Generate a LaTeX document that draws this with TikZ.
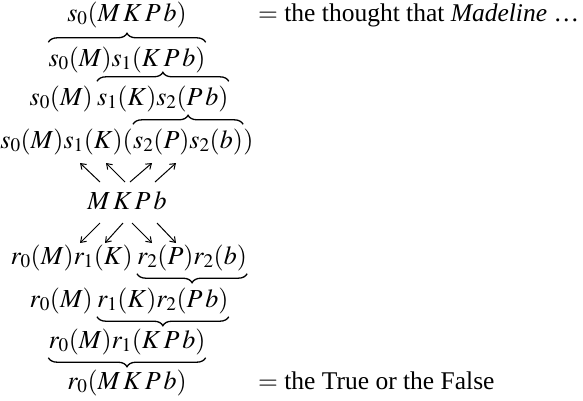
\documentclass[tikz,border=0pt]{standalone}
\usetikzlibrary{arrows.meta,decorations.pathreplacing}
\usepackage{mathptmx}
\usepackage[no-math]{fontspec}
\setmainfont{Liberation Serif}
\newcommand{\g}{\mkern2mu}
\begin{document}
\begin{tikzpicture}[x=1pt,y=-1pt,
  row/.style={anchor=base,inner sep=0pt,font=\fontsize{26}{31}\selectfont},
  rowl/.style={row,anchor=base east},
  rowr/.style={row,anchor=base west},
  side/.style={anchor=base west,inner sep=0pt,font=\fontsize{25.5}{31}\selectfont},
  arr/.style={-{Straight Barb[length=5pt,width=7pt]},line width=1pt},
  brace/.style={decorate,decoration={brace,amplitude=9pt},line width=1.3pt}]
\useasboundingbox (0,0) rectangle (583,400);
% upper half
\node[row] (s1) at (127,21) {$s_0(M\g K\g P\g b)$};
\node[row] (s2) at (127,66) {$s_0(M)s_1(K\g P\g b)$};
\node[rowl] (s3a) at (93,105) {$s_0(M)$};
\node[rowr] (s3b) at (97,105) {$s_1(K)s_2(P\g b)$};
\node[rowl] (s4a) at (133,148) {$s_0(M)s_1(K)($};
\node[rowr] (s4b) at (133,148) {$s_2(P)s_2(b)$};
\node[rowr] (s4c) at (s4b.base east) {$)$};
\node[row] (m) at (127,209) {$M\g K\g P\g b$};
% lower half
\node[rowl] (r1a) at (133,264) {$r_0(M)r_1(K)$};
\node[rowr] (r1b) at (137,264) {$r_2(P)r_2(b)$};
\node[rowl] (r2a) at (93,307) {$r_0(M)$};
\node[rowr] (r2b) at (97,307) {$r_1(K)r_2(P\g b)$};
\node[row] (r3) at (127,348) {$r_0(M)r_1(K\g P\g b)$};
\node[row] (r4) at (127,389) {$r_0(M\g K\g P\g b)$};
\node[side] (t1) at (258,21) {$=$ the thought that \textit{Madeline} \ldots};
\node[side] (t2) at (258,389) {$=$ the True or the False};
% braces
\foreach \n in {s2,s3b,s4b}
  \draw[brace] ([yshift=4pt]\n.north west) -- ([yshift=4pt]\n.north east);
\foreach \n in {r1b,r2b,r3}
  \draw[brace] ([yshift=-3pt]\n.south east) -- ([yshift=-3pt]\n.south west);
% up arrows
\coordinate (u1a) at (100,182); \coordinate (u1b) at (80,163);
\coordinate (u2a) at (125,182); \coordinate (u2b) at (106,163);
\coordinate (u3a) at (130,182); \coordinate (u3b) at (152,163);
\coordinate (u4a) at (155,182); \coordinate (u4b) at (176,163);
\foreach \i in {1,...,4} \draw[arr] (u\i a) -- (u\i b);
% down arrows
\coordinate (d1a) at (100,223); \coordinate (d1b) at (80,243);
\coordinate (d2a) at (123,223); \coordinate (d2b) at (105,243);
\coordinate (d3a) at (132,223); \coordinate (d3b) at (152,243);
\coordinate (d4a) at (157,223); \coordinate (d4b) at (176,243);
\foreach \i in {1,...,4} \draw[arr] (d\i a) -- (d\i b);
\end{tikzpicture}
\end{document}
